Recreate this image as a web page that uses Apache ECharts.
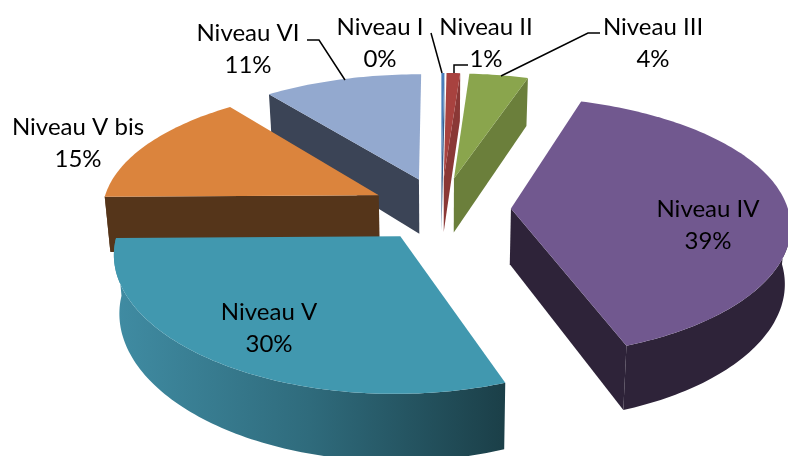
<!DOCTYPE html>
<html>
<head>
<meta charset="utf-8">
<title>Niveaux</title>
<script src="https://cdn.jsdelivr.net/npm/echarts@6/dist/echarts.min.js"></script>
<style>
    html, body { margin: 0; padding: 0; background: #fff; }
    #chart { width: 788px; height: 456px; }
</style>
</head>
<body>
<div id="chart"></div>
<script>
// 数据
var categories = ['Niveau I', 'Niveau II', 'Niveau III', 'Niveau IV', 'Niveau V', 'Niveau V bis', 'Niveau VI'];
var shares = [0.2, 0.9, 3.9, 39.4, 30.4, 14.7, 10.5];

// 样式
var topColors = ['#4a7ebb', '#a8423f', '#8aa54d', '#71588f', '#4198af', '#db843d', '#93a9cf'];
var wallColors = ['#3a5f8c', '#8a3836', '#6b7f3b', '#2e2339', null, '#55351a', '#3b4456'];
var wallGradientV = ['#408ca3', '#2f6b7c', '#1b3f48'];

// 标签位置（文字中心）
var labelPos = [[380, 43], [486, 43], [653, 43], [708, 225], [269, 328], [78, 143], [248, 49]];
// 引导线
var leaders = [
    [[431, 33], [442, 73]],
    [[454, 73], [454, 65], [468, 65]],
    [[501, 76], [588, 33], [600, 33]],
    null, null, null,
    [[307, 40], [319, 40], [345, 80]]
];

// 三维投影参数
var CX = 441, CY = 209, RADIUS = 277, EXPLODE = 70, TILT = 0.46, DIST_X = 2400, DIST_Y = 2000, DEPTH = 56, SHRINK = 0.0003;

function project(x, z, h) {
    var sx = DIST_X / (DIST_X + z);
    var sy = DIST_Y / (DIST_Y + z);
    return [CX + x * sx * (1 - h * SHRINK), CY - z * sy * TILT + h * sy];
}

function sliceAngles() {
    var total = shares.reduce(function(a, b) { return a + b; }, 0);
    var acc = 0;
    return shares.map(function(v) {
        var start = acc / total * Math.PI * 2;
        acc += v;
        return [start, acc / total * Math.PI * 2];
    });
}

var angles = sliceAngles();

// 远处的扇区先画
var drawRank = angles
    .map(function(a, i) { return { i: i, c: Math.cos((a[0] + a[1]) / 2) }; })
    .sort(function(a, b) { return b.c - a.c; })
    .reduce(function(acc, o, rank) { acc[o.i] = rank; return acc; }, {});

function rimPoint(index, angle, h) {
    var mid = (angles[index][0] + angles[index][1]) / 2;
    var ex = Math.sin(mid) * EXPLODE, ez = Math.cos(mid) * EXPLODE;
    return project(ex + Math.sin(angle) * RADIUS, ez + Math.cos(angle) * RADIUS, h);
}

function apexPoint(index, h) {
    var mid = (angles[index][0] + angles[index][1]) / 2;
    return project(Math.sin(mid) * EXPLODE, Math.cos(mid) * EXPLODE, h);
}

function arcAngles(from, to) {
    var steps = Math.max(2, Math.ceil((to - from) / 0.02));
    var list = [];
    for (var i = 0; i <= steps; i++) {
        list.push(from + (to - from) * i / steps);
    }
    return list;
}

function polygon(points, fill, z2) {
    return { type: 'polygon', shape: { points: points }, style: { fill: fill }, z2: z2, silent: true };
}

function renderSlice(params) {
    var i = params.dataIndex;
    var start = angles[i][0], end = angles[i][1];
    var base = drawRank[i] * 10;
    var children = [];
    var wallFill = wallColors[i];
    if (!wallFill) {
        wallFill = new echarts.graphic.LinearGradient(0, 0, 1, 0, [
            { offset: 0, color: wallGradientV[0] },
            { offset: 0.5, color: wallGradientV[1] },
            { offset: 1, color: wallGradientV[2] }
        ]);
    }
    var sideFill = wallColors[i] || wallGradientV[2];

    // 径向的侧面
    if (Math.sin(start) < 0) {
        children.push(polygon([apexPoint(i, 0), rimPoint(i, start, 0), rimPoint(i, start, DEPTH), apexPoint(i, DEPTH)], sideFill, base));
    }
    if (Math.sin(end) > 0) {
        children.push(polygon([apexPoint(i, 0), rimPoint(i, end, 0), rimPoint(i, end, DEPTH), apexPoint(i, DEPTH)], sideFill, base));
    }

    // 外侧弧面，只有前半圈看得到
    var wallFrom = Math.max(start, Math.PI / 2), wallTo = Math.min(end, Math.PI * 3 / 2);
    if (wallTo > wallFrom) {
        var arc = arcAngles(wallFrom, wallTo);
        var upper = arc.map(function(a) { return rimPoint(i, a, 0); });
        var lower = arc.map(function(a) { return rimPoint(i, a, DEPTH); }).reverse();
        children.push(polygon(upper.concat(lower), wallFill, base + 1));
    }

    // 顶面
    var top = [apexPoint(i, 0)].concat(arcAngles(start, end).map(function(a) { return rimPoint(i, a, 0); }));
    children.push(polygon(top, topColors[i], base + 2));

    // 标签
    children.push({
        type: 'text',
        z2: 1000,
        silent: true,
        style: {
            x: labelPos[i][0],
            y: labelPos[i][1],
            text: categories[i] + '\n' + Math.round(shares[i]) + '%',
            fill: '#000',
            font: '24px Lato',
            lineHeight: 32,
            align: 'center',
            verticalAlign: 'middle'
        }
    });

    if (leaders[i]) {
        children.push({
            type: 'polyline',
            z2: 1000,
            silent: true,
            shape: { points: leaders[i] },
            style: { stroke: '#000', lineWidth: 1.5, fill: null }
        });
    }

    return { type: 'group', children: children };
}

var chart = echarts.init(document.getElementById('chart'), null, { renderer: 'canvas' });
chart.setOption({
    animation: false,
    tooltip: { show: false },
    series: [{
        type: 'custom',
        coordinateSystem: 'none',
        silent: true,
        data: shares.map(function(v, i) { return { name: categories[i], value: v }; }),
        renderItem: renderSlice
    }]
});
</script>
</body>
</html>
